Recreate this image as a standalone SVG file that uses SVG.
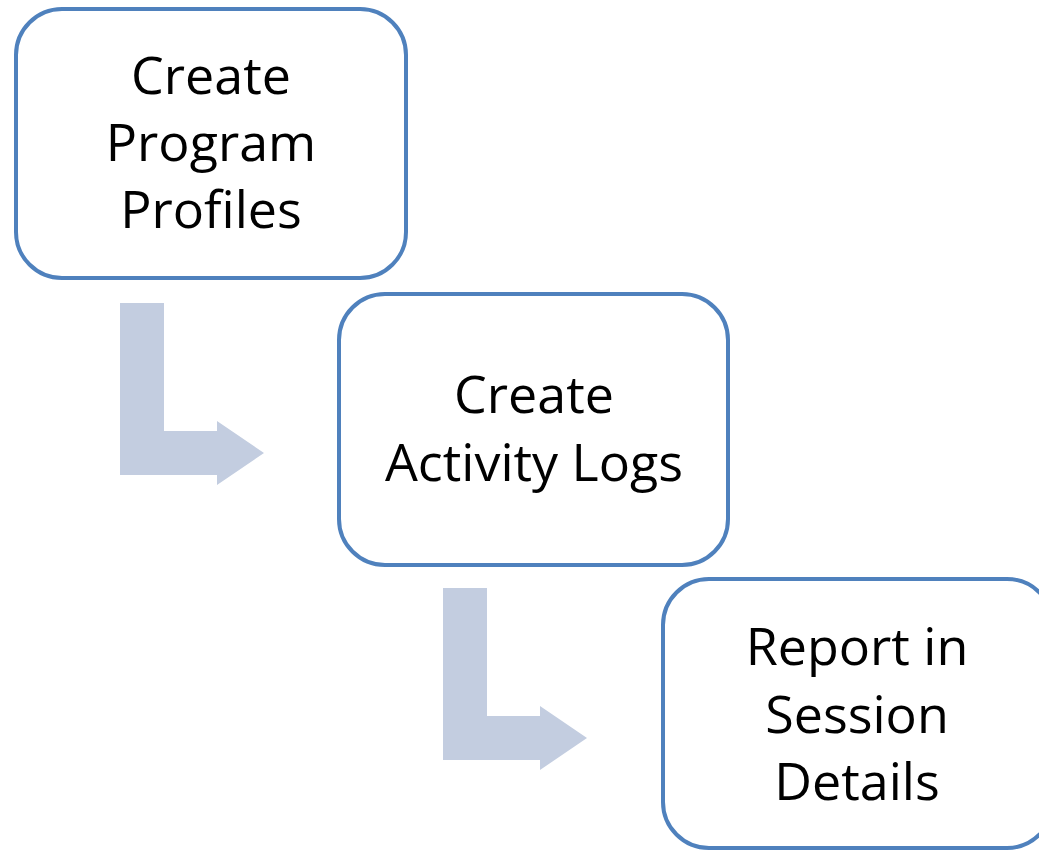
<svg xmlns="http://www.w3.org/2000/svg" width="1039" height="850" viewBox="0 0 1039 850">
<style>
.box{fill:#ffffff;stroke:#4F81BD;stroke-width:4}
.lbl{font-family:"Open Sans","Liberation Sans",sans-serif;font-size:52px;fill:#000000;text-anchor:middle}
.arr{fill:#C3CDE0}
</style>
<rect width="1039" height="850" fill="#ffffff"/>
<g id="connectors">
<path class="arr" d="M120,303 H164 V431 H217 V421 L264,453 L217,485 V475 H120 Z"/>
<path class="arr" d="M443,588 H487 V716 H540 V706 L587,738 L540,770 V760 H443 Z"/>
</g>
<g id="node1">
<rect class="box" x="16" y="9" width="390" height="269" rx="46" ry="46"/>
<text class="lbl" x="211" y="94">Create</text>
<text class="lbl" x="211" y="161">Program</text>
<text class="lbl" x="211" y="228">Profiles</text>
</g>
<g id="node2">
<rect class="box" x="339" y="294" width="389" height="271" rx="46" ry="46"/>
<text class="lbl" x="534" y="413">Create</text>
<text class="lbl" x="534" y="481">Activity Logs</text>
</g>
<g id="node3">
<rect class="box" x="663" y="579" width="390" height="269" rx="46" ry="46"/>
<text class="lbl" x="857" y="665">Report in</text>
<text class="lbl" x="857" y="733">Session</text>
<text class="lbl" x="857" y="800">Details</text>
</g>
</svg>
